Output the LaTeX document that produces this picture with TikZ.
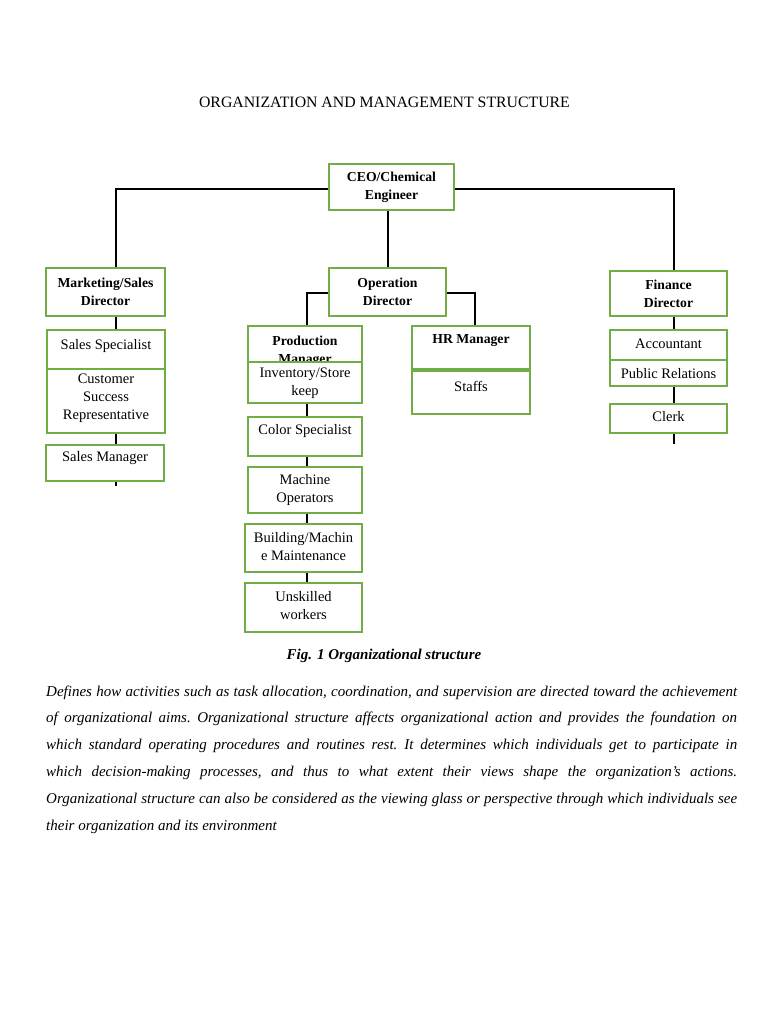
\documentclass[tikz,border=0pt]{standalone}
\usepackage{fontspec}
\setmainfont{Liberation Serif}
\definecolor{boxgreen}{RGB}{112,173,71}
\newcommand\rgfont{\fontsize{14.5}{18}\selectfont}
\newcommand\bdfont{\fontsize{13.7}{18}\selectfont\bfseries}
\newcommand\parafont{\fontsize{15}{16}\selectfont\itshape\frenchspacing}
\newcommand\paraline[1]{\makebox[691pt][s]{#1}}
\begin{document}
\begin{tikzpicture}[x=1pt,y=-1pt,
  box/.style={draw=boxgreen,line width=2pt,fill=white,inner sep=0pt},
  rg/.style={font=\rgfont,align=center,inner sep=0pt},
  bd/.style={font=\bdfont,align=center,inner sep=0pt},
  conn/.style={draw=black,line width=2pt},
  para/.style={font=\parafont,anchor=west,inner sep=0pt}]
\useasboundingbox[fill=white] (0,0) rectangle (768,1024);

% title
\node[font=\fontsize{15.8}{18}\selectfont,inner sep=0pt] (title) at (384.5,102) {ORGANIZATION AND MANAGEMENT STRUCTURE};

% boxes
\node[box,minimum width=125,minimum height=46] (ceo) at (391.5,187) {};
\node[box,minimum width=119,minimum height=48] (mkt) at (105.5,292) {};
\node[box,minimum width=118,minimum height=39] (ss) at (106,349.5) {};
\node[box,minimum width=118,minimum height=64] (csr) at (106,401) {};
\node[box,minimum width=118,minimum height=36] (sm) at (105,463) {};
\node[box,minimum width=117,minimum height=48] (ops) at (387.5,292) {};
\node[box,minimum width=114,minimum height=36] (pm) at (305,344) {};
\node[bd] (pm-t) at (305,351) {Production\\Manager};
\node[box,minimum width=114,minimum height=41] (inv) at (305,382.5) {};
\node[box,minimum width=114,minimum height=39] (cs) at (305,436.5) {};
\node[box,minimum width=114,minimum height=46] (mo) at (305,490) {};
\node[box,minimum width=117,minimum height=48] (bm) at (303.5,548) {};
\node[box,minimum width=117,minimum height=49] (uw) at (303.5,607.5) {};
\node[box,minimum width=118,minimum height=43] (hr) at (471,347.5) {};
\node[box,minimum width=118,minimum height=43] (st) at (471,392.5) {};
\node[box,minimum width=117,minimum height=45] (fin) at (668.5,293.5) {};
\node[box,minimum width=117,minimum height=30] (acc) at (668.5,345) {};
\node[box,minimum width=117,minimum height=26] (pr) at (668.5,373) {};
\node[box,minimum width=117,minimum height=29] (clk) at (668.5,418.5) {};

% box texts
\node[bd] (ceo-t) at (391.5,187) {CEO/Chemical\\Engineer};
\node[bd] (mkt-t) at (105.5,292) {Marketing/Sales\\Director};
\node[rg] (ss-t) at (106,346) {Sales Specialist};
\node[rg] (csr-t) at (106,398) {Customer\\Success\\Representative};
\node[rg] (sm-t) at (105,458) {Sales Manager};
\node[bd] (ops-t) at (387.5,292) {Operation\\Director};
\node[rg] (inv-t) at (305,383.5) {Inventory/Store\\keep};
\node[rg] (cs-t) at (305,431) {Color Specialist};
\node[rg] (mo-t) at (305,490) {Machine\\Operators};
\node[rg] (bm-t) at (303.5,547) {Building/Machin\\e Maintenance};
\node[rg] (uw-t) at (303.5,605.5) {Unskilled\\workers};
\node[bd] (hr-t) at (471,341) {HR Manager};
\node[rg] (st-t) at (471,386) {Staffs};
\node[bd] (fin-t) at (668.5,293.5) {Finance\\Director};
\node[rg] (acc-t) at (668.5,344) {Accountant};
\node[rg] (pr-t) at (668.5,374) {Public Relations};
\node[rg] (clk-t) at (668.5,417) {Clerk};

% connectors
\draw[conn] ([yshift=-2pt]ceo.west) -| ([xshift=10.5pt]mkt.north);
\draw[conn] ([yshift=-2pt]ceo.east) -| ([xshift=5.5pt]fin.north);
\draw[conn] ([xshift=-3.5pt]ceo.south) -- ([xshift=0.5pt]ops.north);
\draw[conn] ([yshift=-1pt]ops.west) -| ([xshift=1.5pt]pm.north);
\draw[conn] ([yshift=-1pt]ops.east) -| ([xshift=4pt]hr.north);
\draw[conn] ([xshift=10.5pt]mkt.south) -- ([xshift=10pt]ss.north);
\draw[conn] ([xshift=10pt]csr.south) -- ([xshift=11pt]sm.north);
\coordinate (smend) at (116,486);
\draw[conn] ([xshift=11pt]sm.south) -- (smend);
\draw[conn] ([xshift=2pt]inv.south) -- ([xshift=2pt]cs.north);
\draw[conn] ([xshift=2pt]cs.south) -- ([xshift=2pt]mo.north);
\draw[conn] ([xshift=2pt]mo.south) -- ([xshift=3.5pt]bm.north);
\draw[conn] ([xshift=3.5pt]bm.south) -- ([xshift=3.5pt]uw.north);
\draw[conn] ([xshift=4pt]hr.south) -- ([xshift=4pt]st.north);
\draw[conn] ([xshift=5.5pt]fin.south) -- ([xshift=5.5pt]acc.north);
\draw[conn] ([xshift=5.5pt]pr.south) -- ([xshift=5.5pt]clk.north);
\coordinate (clkend) at (674,444);
\draw[conn] ([xshift=5.5pt]clk.south) -- (clkend);

% caption
\node[font=\fontsize{15}{18}\selectfont\bfseries\itshape,inner sep=0pt] (cap) at (384,656) {Fig. 1 Organizational structure};

% paragraph
\node[para] (p1) at (46,693) {\paraline{Defines how activities such as task allocation, coordination, and supervision are directed toward the achievement}};
\node[para] (p2) at (46,719) {\paraline{of organizational aims. Organizational structure affects organizational action and provides the foundation on}};
\node[para] (p3) at (46,746) {\paraline{which standard operating procedures and routines rest. It determines which individuals get to participate in}};
\node[para] (p4) at (46,773) {\paraline{which decision-making processes, and thus to what extent their views shape the organization’s actions.}};
\node[para] (p5) at (46,800) {\paraline{Organizational structure can also be considered as the viewing glass or perspective through which individuals see}};
\node[para] (p6) at (46,827) {their organization and its environment};
\end{tikzpicture}
\end{document}
